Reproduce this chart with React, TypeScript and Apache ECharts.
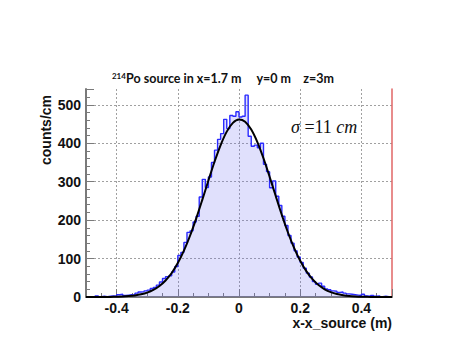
import React, { useEffect, useRef } from "react";
import * as echarts from "echarts";

// Histogram: 100 bins of 1 cm from -0.5 m to 0.5 m (counts per bin)
const BIN_MIN = -0.5;
const BIN_WIDTH = 0.01;
const HIST_COUNTS = [
  0, 1, 0, 3, 1, 2, 1, 2, 3, 2,
  6, 7, 4, 5, 6, 5, 10, 13, 14, 16,
  18, 22, 25, 31, 39, 48, 53, 55, 65, 79,
  108, 116, 142, 168, 172, 195, 210, 260, 306, 285,
  312, 350, 382, 410, 425, 462, 438, 472, 470, 482,
  468, 470, 525, 418, 392, 395, 388, 400, 345, 326,
  284, 302, 262, 238, 210, 186, 160, 140, 120, 104,
  90, 75, 62, 52, 40, 33, 36, 28, 21, 19,
  16, 15, 12, 13, 10, 8, 7, 6, 5, 4,
  7, 3, 2, 4, 2, 3, 1, 2, 1, 0,
];

// Gaussian fit curve, read at 0.02 m steps
const FIT_X = [
  -0.5, -0.48, -0.46, -0.44, -0.42, -0.4, -0.38, -0.36, -0.34, -0.32,
  -0.3, -0.28, -0.26, -0.24, -0.22, -0.2, -0.18, -0.16, -0.14, -0.12,
  -0.1, -0.08, -0.06, -0.04, -0.02, 0, 0.02, 0.04, 0.06, 0.08,
  0.1, 0.12, 0.14, 0.16, 0.18, 0.2, 0.22, 0.24, 0.26, 0.28,
  0.3, 0.32, 0.34, 0.36, 0.38, 0.4, 0.42, 0.44, 0.46, 0.48, 0.5,
];
const FIT_Y = [
  0, 0, 0.1, 0.2, 0.3, 0.7, 1.2, 2.3, 4.0, 6.9,
  11.4, 18.3, 28.5, 42.9, 62.5, 88.2, 120.5, 159.3, 203.9, 252.6,
  302.9, 351.7, 395.3, 430.1, 453.0, 461.9, 456.0, 435.7, 403.1, 360.9,
  312.9, 262.6, 213.3, 167.8, 127.7, 94.2, 67.2, 46.4, 31.0, 20.1,
  12.6, 7.6, 4.5, 2.5, 1.4, 0.7, 0.4, 0.2, 0.1, 0, 0,
];

const X_MIN = -0.5;
const X_MAX = 0.5;
const Y_MIN = 0;
const Y_MAX = 541;
const Y_INTERVAL = 100;

const TITLE_SUP = "214";
const TITLE_TEXT = "Po source in x=1.7 m     y=0 m    z=3m";
const X_NAME = "x-x_source (m)";
const Y_NAME = "counts/cm";

const SANS = "'Liberation Sans', Arial, sans-serif";
const SERIF = "'Liberation Serif', 'Times New Roman', serif";

export default function App() {
  const ref = useRef<HTMLDivElement>(null);

  useEffect(() => {
    document.body.style.margin = "0";
    if (!ref.current) return;
    const chart = echarts.init(ref.current, undefined, { renderer: "svg" });

    const stepData: number[][] = [[BIN_MIN, 0]];
    HIST_COUNTS.forEach((c, i) => {
      const lo = +(BIN_MIN + i * BIN_WIDTH).toFixed(4);
      const hi = +(BIN_MIN + (i + 1) * BIN_WIDTH).toFixed(4);
      stepData.push([lo, c]);
      stepData.push([hi, c]);
    });
    stepData.push([+(BIN_MIN + HIST_COUNTS.length * BIN_WIDTH).toFixed(4), 0]);

    const fitData = FIT_X.map((x, i) => [x, FIT_Y[i]]);

    const axisGrey = "#7a7a7a";
    const gridLine = { show: true, showMinLine: false, showMaxLine: false, lineStyle: { color: "#a0a0a0", type: [2, 2] as any, width: 1 } };

    chart.setOption({
      animation: false,
      backgroundColor: "#ffffff",
      grid: { left: 86, right: 73, top: 89, bottom: 63 },
      xAxis: {
        type: "value",
        min: X_MIN,
        max: X_MAX,
        splitNumber: 5,
        axisLine: { show: true, onZero: false, lineStyle: { color: axisGrey, width: 2 } },
        axisTick: { show: true, inside: true, length: 8, lineStyle: { color: axisGrey, width: 1 } },
        minorTick: { show: true, splitNumber: 4, length: 4, lineStyle: { color: axisGrey, width: 1 } },
        axisLabel: {
          showMinLabel: false,
          showMaxLabel: false,
          fontFamily: SANS,
          fontWeight: "bold",
          fontSize: 14,
          color: "#111",
          margin: 4,
          formatter: (v: number) => String(+v.toFixed(2)),
        },
        splitLine: gridLine,
      },
      yAxis: [
        {
          type: "value",
          min: Y_MIN,
          max: Y_MAX,
          interval: Y_INTERVAL,
          axisLine: { show: true, onZero: false, lineStyle: { color: axisGrey, width: 2 } },
          axisTick: { show: true, inside: true, length: 8, lineStyle: { color: axisGrey, width: 1 } },
          minorTick: { show: true, splitNumber: 5, length: 4, lineStyle: { color: axisGrey, width: 1 } },
          axisLabel: {
            showMaxLabel: false,
            fontFamily: SANS,
            fontWeight: "bold",
            fontSize: 14,
            color: "#111",
            margin: 5,
          },
          splitLine: gridLine,
        },
        {
          type: "value",
          position: "right",
          min: Y_MIN,
          max: Y_MAX,
          axisLine: { show: true, onZero: false, lineStyle: { color: "#e06666", width: 1.5 } },
          axisTick: { show: false },
          axisLabel: { show: false },
          splitLine: { show: false },
        },
      ],
      series: [
        {
          type: "line",
          data: stepData,
          symbol: "none",
          lineStyle: { color: "#2b2bff", width: 1.4 },
          areaStyle: { color: "rgba(110,110,240,0.3)" },
          z: 2,
        },
        {
          type: "line",
          data: fitData,
          smooth: 0.3,
          symbol: "none",
          lineStyle: { color: "#000000", width: 2 },
          z: 3,
        },
      ],
      graphic: [
        {
          type: "text",
          x: 223,
          y: 78,
          style: {
            text: `{sup|${TITLE_SUP}}{t|${TITLE_TEXT}}`,
            align: "center",
            verticalAlign: "middle",
            fill: "#111",
            rich: {
              sup: { fontSize: 8, fontWeight: "bold", fontFamily: "Lato, sans-serif", verticalAlign: "top", fill: "#111", padding: [0, 0, 5, 0] },
              t: { fontSize: 12.5, fontWeight: "bold", fontFamily: "Lato, sans-serif", fill: "#111" },
            },
          },
        },
        {
          type: "text",
          x: 291,
          y: 127,
          style: {
            text: "{s|σ}{n| =11 }{i|cm}",
            align: "left",
            verticalAlign: "middle",
            rich: {
              s: { fontSize: 18, fontStyle: "italic", fontFamily: SERIF, fill: "#111" },
              n: { fontSize: 18, fontFamily: SERIF, fill: "#111" },
              i: { fontSize: 18, fontStyle: "italic", fontFamily: SERIF, fill: "#111" },
            },
          },
        },
        {
          type: "text",
          x: 392,
          y: 323,
          style: {
            text: X_NAME,
            align: "right",
            verticalAlign: "middle",
            fontFamily: SANS,
            fontWeight: "bold",
            fontSize: 14,
            fill: "#111",
          },
        },
        {
          type: "text",
          x: 46,
          y: 130,
          rotation: Math.PI / 2,
          style: {
            text: Y_NAME,
            align: "center",
            verticalAlign: "middle",
            fontFamily: SANS,
            fontWeight: "bold",
            fontSize: 14,
            fill: "#111",
          },
        },
      ],
    });

    return () => chart.dispose();
  }, []);

  return <div ref={ref} style={{ width: 465, height: 360 }} />;
}
